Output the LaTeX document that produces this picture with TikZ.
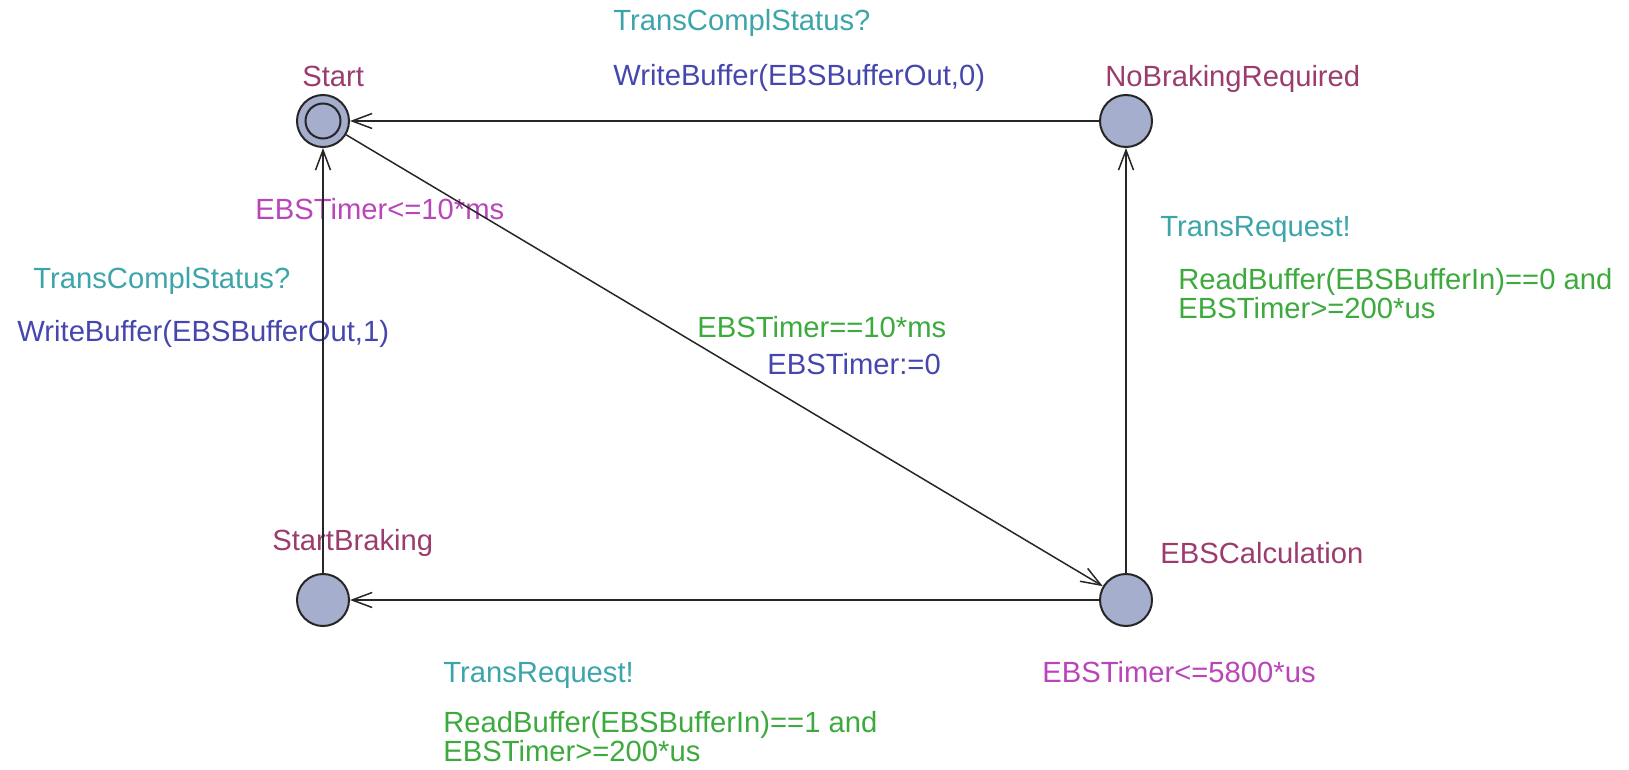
\documentclass[tikz,border=0pt]{standalone}
\usepackage{fontspec}
\setmainfont{Liberation Sans}
\usetikzlibrary{arrows.meta, positioning}
\definecolor{locfill}{RGB}{166,174,206}
\definecolor{namecol}{RGB}{155,60,110}
\definecolor{invcol}{RGB}{185,70,185}
\definecolor{synccol}{RGB}{60,165,170}
\definecolor{assigncol}{RGB}{70,70,175}
\definecolor{guardcol}{RGB}{60,170,60}
\tikzset{
  location/.style={circle, draw=black!85, line width=1pt, fill=locfill, minimum size=26pt, inner sep=0pt},
  basetext/.style={inner sep=0pt, anchor=base west, font=\fontsize{14.6}{14.5}\selectfont, align=left},
  namelbl/.style={basetext, text=namecol},
  invlbl/.style={basetext, text=invcol},
  synclbl/.style={basetext, text=synccol},
  assignlbl/.style={basetext, text=assigncol},
  guardlbl/.style={basetext, text=guardcol},
  edge/.style={-{Straight Barb[length=10pt, width=7.5pt]}, line width=0.75pt, black!85}
}

\begin{document}
\begin{tikzpicture}[x=0.5pt, y=-0.5pt]
  \useasboundingbox (0,0) rectangle (1629,770);
  % locations
  \node[location] (start) at (323,121) {};
  \draw[line width=1pt, black!85] (start.center) circle (8.75pt);
  \node[location] (nobrake) at (1126,121) {};
  \node[location] (brake) at (323,600) {};
  \node[location] (calc) at (1126,600) {};
  \node[namelbl] (startname) at (302,87) {Start};
  \node[namelbl] (nobrakename) at (1105,87) {NoBrakingRequired};
  \node[namelbl] (brakename) at (272,550) {StartBraking};
  \node[namelbl] (calcname) at (1160,563) {EBSCalculation};
  \node[invlbl] (startinv) at (255,220) {EBSTimer<=10*ms};
  \node[invlbl] (calcinv) at (1042,682) {EBSTimer<=5800*us};
  % edge labels (multi-line ones sit on their last line)
  \node[synclbl] (topsync) at (613,31) {TransComplStatus?};
  \node[assignlbl] (topassign) at (613,86) {WriteBuffer(EBSBufferOut,0)};
  \node[synclbl] (leftsync) at (33,289) {TransComplStatus?};
  \node[assignlbl] (leftassign) at (17,342) {WriteBuffer(EBSBufferOut,1)};
  \node[guardlbl] (diagguard) at (697,338) {EBSTimer==10*ms};
  \node[assignlbl] (diagassign) at (767,375) {EBSTimer:=0};
  \node[synclbl] (rightsync) at (1160,237) {TransRequest!};
  \node[guardlbl] (rightguard) at (1178,319) {ReadBuffer(EBSBufferIn)==0 and\\EBSTimer>=200*us};
  \node[synclbl] (botsync) at (443,682) {TransRequest!};
  \node[guardlbl] (botguard) at (443,761) {ReadBuffer(EBSBufferIn)==1 and\\EBSTimer>=200*us};
  % edges
  \draw[edge] (nobrake) -- (start);
  \draw[edge] (start) -- (calc);
  \draw[edge] (calc) -- (nobrake);
  \draw[edge] (calc) -- (brake);
  \draw[edge] (brake) -- (start);
\end{tikzpicture}
\end{document}
